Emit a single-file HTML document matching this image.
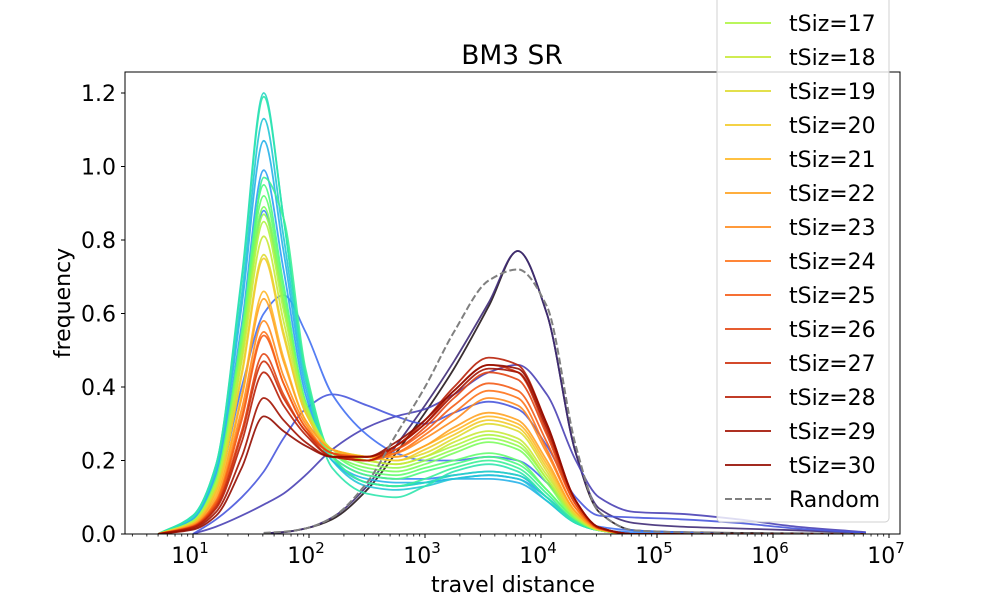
<!DOCTYPE html>
<html><head><meta charset="utf-8"><style>
body{margin:0;background:#fff;}
svg{display:block;font-family:"DejaVu Sans","Liberation Sans",sans-serif;}
</style></head><body>
<svg id="chart" width="1000" height="600" viewBox="0 0 1000 600">
<g id="marks"></g>
<g id="axes"></g>
<g id="legend"></g>
</svg>
<script>
const gridLog = [0.7,1.0,1.2,1.42,1.61,1.78,1.97,2.2,2.5,2.75,3.0,3.25,3.55,3.8,4.05,4.3,4.5,4.8,5.2,5.7,6.2,6.8];
const s1 = [null,null,null,null,0.002,0.005,0.015,0.04,0.12,0.22,0.33,0.45,0.62,0.77,0.6,0.22,0.06,0.01,0.005,0.003,0.002,0];
const s2 = [null,null,null,null,0.002,0.005,0.015,0.045,0.13,0.24,0.35,0.47,0.63,0.77,0.6,0.22,0.07,0.03,0.02,0.015,0.01,0.003];
const s3 = [null,0,0.02,0.05,0.08,0.11,0.16,0.23,0.29,0.32,0.34,0.38,0.44,0.46,0.38,0.2,0.1,0.06,0.055,0.04,0.02,0.005];
const s4 = [null,0,0.04,0.1,0.17,0.26,0.34,0.38,0.35,0.32,0.3,0.33,0.36,0.34,0.24,0.1,0.05,0.045,0.04,0.03,0.015,0.003];
const s5 = [0,0.02,0.12,0.4,0.6,0.65,0.55,0.38,0.27,0.22,0.2,0.2,0.21,0.2,0.14,0.05,0.02,0.01,0.005,0,0,0];
const s6 = [0,.035,.14,.51,.88,.63,.34,.21,.16,.15,.15,.16,.17,.16,.1,.035,.01,.005,.002,0,0,0];
const s7 = [0,.04,.16,.57,.99,.72,.38,.2,.14,.13,.14,.15,.16,.15,.1,.03,.01,0,0,0,0,0];
const s8 = [0,.04,.17,.62,1.07,.77,.4,.2,.15,.14,.14,.15,.15,.14,.09,.03,.01,0,0,0,0,0];
const s9 = [0,.045,.18,.65,1.13,.81,.42,.2,.13,.12,.13,.15,.16,.15,.09,.03,.01,0,0,0,0,0];
const s10 = [0,.05,.19,.7,1.2,.86,.44,.21,.14,.13,.14,.16,.17,.16,.1,.03,.01,0,0,0,0,0];
const s11 = [0,.05,.19,.69,1.19,.86,.43,.18,.11,.1,.13,.17,.19,.17,.1,.03,.01,0,0,0,0,0];
const s12 = [0,.03,.13,.48,.97,.86,.45,.21,.14,.13,.15,.18,.2,.18,.11,.035,.01,0,0,0,0,0];
const s13 = [0,.035,.15,.55,.95,.68,.36,.21,.16,.15,.17,.19,.21,.19,.12,.04,.01,0,0,0,0,0];
const s14 = [0,.035,.15,.53,.92,.66,.36,.22,.17,.16,.18,.2,.22,.2,.12,.04,.01,0,0,0,0,0];
const s15 = [0,.035,.14,.52,.89,.64,.35,.22,.18,.17,.19,.22,.25,.23,.14,.04,.01,0,0,0,0,0];
const s16 = [0,.035,.14,.5,.87,.63,.35,.23,.19,.18,.2,.23,.26,.24,.15,.045,.01,0,0,0,0,0];
const s17 = [0,.035,.14,.49,.85,.61,.35,.23,.2,.19,.21,.24,.27,.25,.15,.045,.01,0,0,0,0,0];
const s18 = [0,.03,.13,.47,.81,.58,.34,.23,.2,.19,.21,.25,.28,.26,.16,.05,.012,0,0,0,0,0];
const s19 = [0,.03,.12,.44,.76,.55,.33,.23,.21,.2,.22,.26,.3,.28,.17,.05,.012,0,0,0,0,0];
const s20 = [0,.03,.12,.43,.75,.54,.33,.23,.21,.2,.23,.27,.31,.29,.18,.055,.012,0,0,0,0,0];
const s21 = [0,.026,.11,.38,.66,.48,.31,.23,.21,.21,.24,.28,.32,.3,.19,.06,.013,0,0,0,0,0];
const s22 = [0,.026,.1,.37,.64,.47,.31,.23,.21,.21,.24,.29,.33,.31,.2,.06,.013,0,0,0,0,0];
const s23 = [0,.023,.09,.34,.58,.43,.3,.22,.21,.22,.26,.31,.37,.35,.22,.07,.015,0,0,0,0,0];
const s24 = [0,.022,.09,.32,.55,.41,.29,.22,.2,.22,.27,.33,.39,.37,.23,.07,.015,0,0,0,0,0];
const s25 = [0,.021,.085,.31,.54,.41,.29,.22,.21,.23,.28,.35,.41,.39,.25,.08,.015,0,0,0,0,0];
const s26 = [0,.02,.08,.28,.49,.38,.28,.22,.2,.23,.29,.37,.44,.42,.27,.08,.016,0,0,0,0,0];
const s27 = [0,.019,.075,.27,.47,.37,.28,.21,.2,.24,.3,.39,.46,.44,.28,.09,.017,0,0,0,0,0];
const s28 = [0,.018,.07,.25,.44,.35,.27,.21,.2,.24,.31,.4,.48,.46,.3,.09,.018,0,0,0,0,0];
const s29 = [0,.015,.06,.21,.37,.31,.25,.21,.21,.24,.3,.38,.45,.44,.29,.09,.018,0,0,0,0,0];
const s30 = [0,.012,.05,.18,.32,.28,.24,.21,.21,.25,.31,.39,.46,.45,.3,.09,.018,0,0,0,0,0];
const sRandom = [null,null,null,null,0.003,0.006,0.015,0.045,0.14,0.27,0.4,0.55,0.69,0.72,0.62,0.24,0.06,0.01,0.005,0.002,0.001,0];
const seriesList = [s1,s2,s3,s4,s5,s6,s7,s8,s9,s10,s11,s12,s13,s14,s15,s16,s17,s18,s19,s20,s21,s22,s23,s24,s25,s26,s27,s28,s29,s30];
const yTicks = [0,0.2,0.4,0.6,0.8,1.0,1.2];
const yTickLabels = ["0.0","0.2","0.4","0.6","0.8","1.0","1.2"];
const xTicks = [1,2,3,4,5,6,7];
const legendNames = ["tSiz=17","tSiz=18","tSiz=19","tSiz=20","tSiz=21","tSiz=22","tSiz=23","tSiz=24","tSiz=25","tSiz=26","tSiz=27","tSiz=28","tSiz=29","tSiz=30","Random"];

const NS="http://www.w3.org/2000/svg";
const L=125,R=900,T=72,B=534;
function xs(lg){return 193+(lg-1)*116;}
function ys(v){return 534-v*367.5;}
function turbo(t){
 const r=0.13572138+t*(4.6153926+t*(-42.66032258+t*(132.13108234+t*(-152.94239396+t*59.28637943))));
 const g=0.09140261+t*(2.19418839+t*(4.84296658+t*(-14.18503333+t*(4.27729857+t*2.82956604))));
 const b=0.1066733+t*(12.64194608+t*(-60.58204836+t*(110.36276771+t*(-89.90310912+t*27.34824973))));
 const c=v=>Math.round(Math.max(0,Math.min(1,v))*255);
 return `rgb(${c(r)},${c(g)},${c(b)})`;
}
function colorOf(i){return turbo(i/30);}
function mk(tag,attrs,parent){const e=document.createElementNS(NS,tag);for(const k in attrs)e.setAttribute(k,attrs[k]);parent.appendChild(e);return e;}
function monoPath(pts){
 const n=pts.length; if(n<2) return "";
 const d=[],m=[];
 for(let i=0;i<n-1;i++)d.push((pts[i+1][1]-pts[i][1])/(pts[i+1][0]-pts[i][0]));
 m[0]=d[0];m[n-1]=d[n-2];
 for(let i=1;i<n-1;i++){m[i]=(d[i-1]*d[i]<=0)?0:2/(1/d[i-1]+1/d[i]);}
 let s=`M${pts[0][0].toFixed(1)},${pts[0][1].toFixed(1)}`;
 for(let i=0;i<n-1;i++){const h=pts[i+1][0]-pts[i][0];
  s+=`C${(pts[i][0]+h/3).toFixed(1)},${(pts[i][1]+m[i]*h/3).toFixed(1)} ${(pts[i+1][0]-h/3).toFixed(1)},${(pts[i+1][1]-m[i+1]*h/3).toFixed(1)} ${pts[i+1][0].toFixed(1)},${pts[i+1][1].toFixed(1)}`;}
 return s;
}
function pointsOf(arr){const p=[];arr.forEach((v,i)=>{if(v!==null)p.push([xs(gridLog[i]),ys(v)]);});return p;}
const marks=document.getElementById('marks');
const clip=mk('clipPath',{id:'pc'},document.getElementById('chart'));
mk('rect',{x:L,y:T,width:R-L,height:B-T},clip);
marks.setAttribute('clip-path','url(#pc)');
seriesList.forEach((arr,i)=>{
 const p=mk('path',{d:monoPath(pointsOf(arr)),fill:'none',stroke:colorOf(i),'stroke-width':1.8,'stroke-opacity':0.9},marks);
 
 
});
const rp=mk('path',{d:monoPath(pointsOf(sRandom)),fill:'none',stroke:'#808080','stroke-width':2,'stroke-dasharray':'7,3'},marks);



const ax=document.getElementById('axes');
mk('rect',{x:L,y:T,width:R-L,height:B-T,fill:'none',stroke:'#000','stroke-width':1},ax);
yTicks.forEach((v,i)=>{const y=ys(v);
 mk('line',{x1:L-4,x2:L,y1:y,y2:y,stroke:'#000'},ax);
 const t=mk('text',{x:L-9,y:y+8,'text-anchor':'end','font-size':22},ax);t.textContent=yTickLabels[i];
 
 
});
for(let d=0;d<=7;d++){for(let k=2;k<=9;k++){const x=xs(d+Math.log10(k));if(x>L&&x<R)mk('line',{x1:x,x2:x,y1:B,y2:B+2.5,stroke:'#000','stroke-width':0.8},ax);}}
xTicks.forEach(e=>{const x=xs(e);
 mk('line',{x1:x,x2:x,y1:B,y2:B+4,stroke:'#000'},ax);
 const t=mk('text',{x:x-3,y:B+29,'text-anchor':'middle','font-size':22},ax);
 
 
 t.textContent='10';
 const s=mk('tspan',{dy:-10,'font-size':15},t);s.textContent=String(e);
});
const tt=mk('text',{x:512,y:64,'text-anchor':'middle','font-size':26.5},ax);tt.textContent='BM3 SR';


const xl=mk('text',{x:513,y:592,'text-anchor':'middle','font-size':22},ax);xl.textContent='travel distance';


const yl=mk('text',{x:0,y:0,'text-anchor':'middle','font-size':22,transform:'translate(70,303) rotate(-90)'},ax);yl.textContent='frequency';



const lg=document.getElementById('legend');
const box=mk('rect',{x:717,y:-20,width:172,height:542,rx:4,fill:'#fff','fill-opacity':0.8,stroke:'#d0d0d0'},lg);


legendNames.forEach((nm,i)=>{const y=23+i*34;
 const g=mk('g',{},lg);
 
 
 const isR=nm==='Random';
 mk('line',{x1:725,x2:771,y1:y,y2:y,stroke:isR?'#808080':colorOf(16+i),'stroke-width':isR?2:1.8,'stroke-dasharray':isR?'7,3':'none'},g);
 const t=mk('text',{x:789,y:y+8,'font-size':22},g);t.textContent=nm;
});
</script>
</body></html>
